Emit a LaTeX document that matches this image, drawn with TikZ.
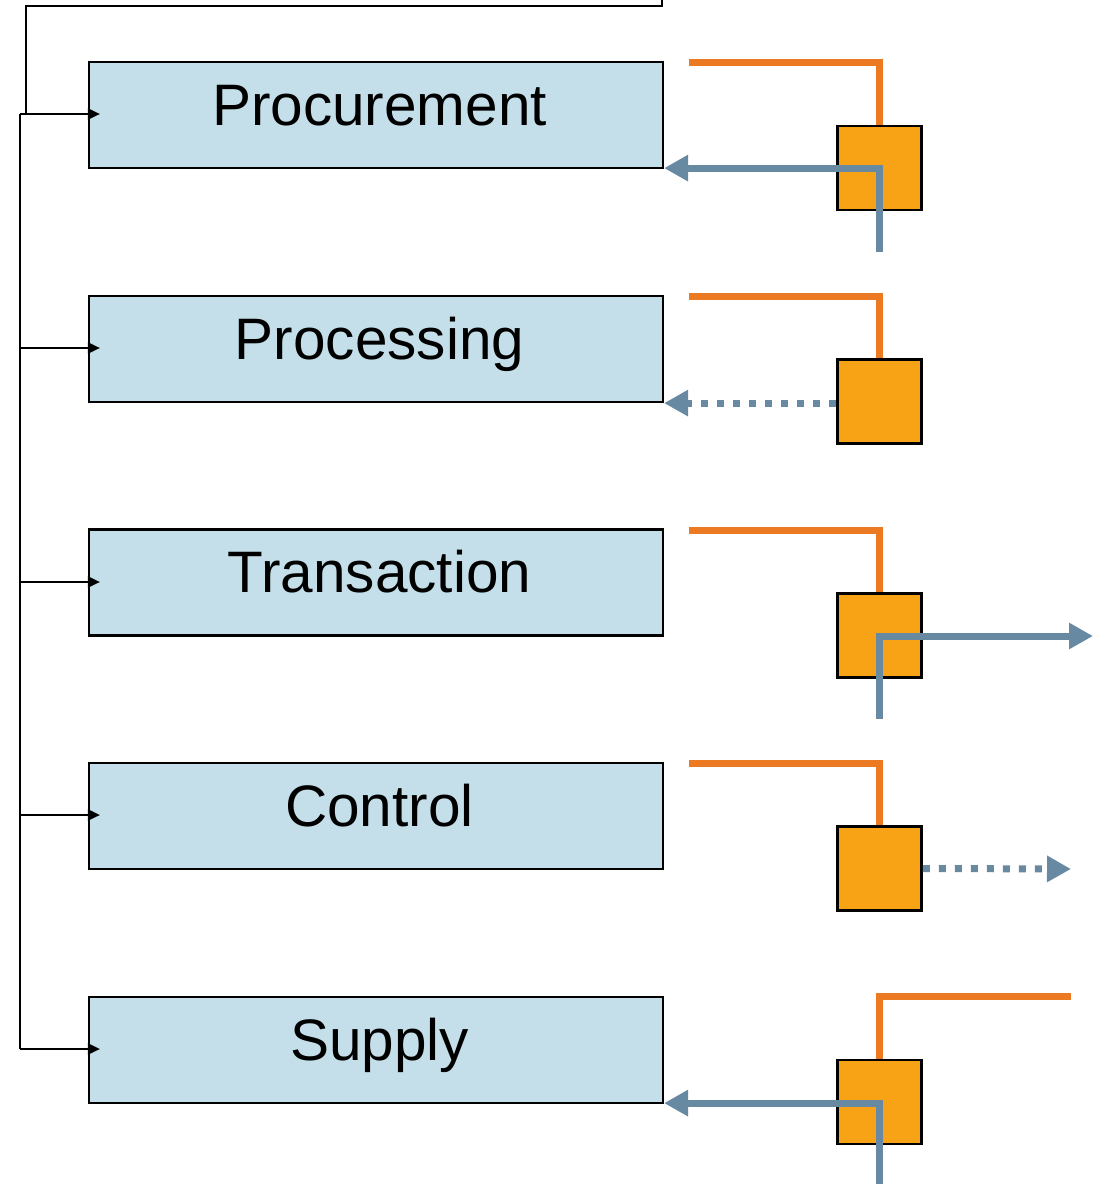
\documentclass[tikz,border=0pt]{standalone}
\usepackage{fontspec}
\setmainfont{Liberation Sans}
\usetikzlibrary{arrows.meta}
\definecolor{boxfill}{HTML}{C4DFE9}
\definecolor{sqfill}{HTML}{F8A215}
\definecolor{feed}{HTML}{EC7A22}
\definecolor{flow}{HTML}{6889A2}
\newcommand\stagetext[1]{\hspace*{7pt}#1}
\tikzset{
  stage/.style={draw=black, line width=2.2pt, fill=boxfill, minimum width=574pt,
    minimum height=106pt, inner sep=0pt, text height=40pt, text depth=20pt,
    font=\fontsize{58.5}{62}\selectfont},
  unit/.style={draw=black, line width=2.6pt, fill=sqfill, minimum size=84pt, inner sep=0pt},
  feedline/.style={draw=feed, line width=7pt},
  flowline/.style={draw=flow, line width=7pt},
  flowarrow/.style={flowline, -{Triangle[length=24pt,width=25pt]}},
  flowdots/.style={flowarrow, dash pattern=on 7pt off 9pt},
  tree/.style={draw=black, line width=2pt},
  treearrow/.style={tree, -{Triangle[length=12pt,width=11pt]}}
}
\begin{document}
\begin{tikzpicture}[x=1pt,y=-1pt]
\useasboundingbox (0,0) rectangle (1093,1184);

% stages
\node[stage] (b1) at (376,115) {\stagetext{Procurement}};
\node[stage] (b2) at (376,349) {\stagetext{Processing}};
\node[stage] (b3) at (376,582.5) {\stagetext{Transaction}};
\node[stage] (b4) at (376,816) {\stagetext{Control}};
\node[stage] (b5) at (376,1050) {\stagetext{Supply}};

% free ends of the connectors
\coordinate (top) at (662,0);
\coordinate (trunk) at (20,114);
\coordinate (trunkend) at (20,1049);
\foreach \i/\y in {1/114,2/348,3/582,4/815,5/1049}{
  \coordinate (t\i) at (20,\y);
  \coordinate (o\i) at (689,\y-52);
}
\coordinate (o5) at (1071,996);
\coordinate (u1) at (879.5,252);
\coordinate (u3) at (879.5,719);
\coordinate (u5) at (879.5,1184);
\coordinate (e3) at (1093,636);
\coordinate (e4) at (1071,869);

% orange feed lines (behind the units)
\draw[feedline] (o1) -| (879.5,140);
\draw[feedline] (o2) -| (879.5,370);
\draw[feedline] (o3) -| (879.5,605);
\draw[feedline] (o4) -| (879.5,840);
\draw[feedline] (o5) -| (879.5,1070);

% units
\node[unit] (s1) at (879.5,168) {};
\node[unit] (s2) at (879.5,401.5) {};
\node[unit] (s3) at (879.5,635.5) {};
\node[unit] (s4) at (879.5,868.5) {};
\node[unit] (s5) at (879.5,1102) {};

% blue flows
\draw[flowarrow] (u1) |- ([yshift=1pt]b1.south east);
\draw[flowdots] (s2.west |- b2.south east) -- (b2.south east);
\draw[flowarrow] (u3) |- (e3);
\draw[flowdots] (s4.east) -- (e4);
\draw[flowarrow] (u5) |- ([yshift=1pt]b5.south east);

% black tree on the left
\draw[tree] (top) -- (662,6) -- (26,6) -- (26,114);
\draw[tree] (trunk) -- (trunkend);
\foreach \i in {1,...,5}{
  \draw[treearrow] (t\i) -- ([xshift=12pt]b\i.west |- t\i);
}
\end{tikzpicture}
\end{document}
